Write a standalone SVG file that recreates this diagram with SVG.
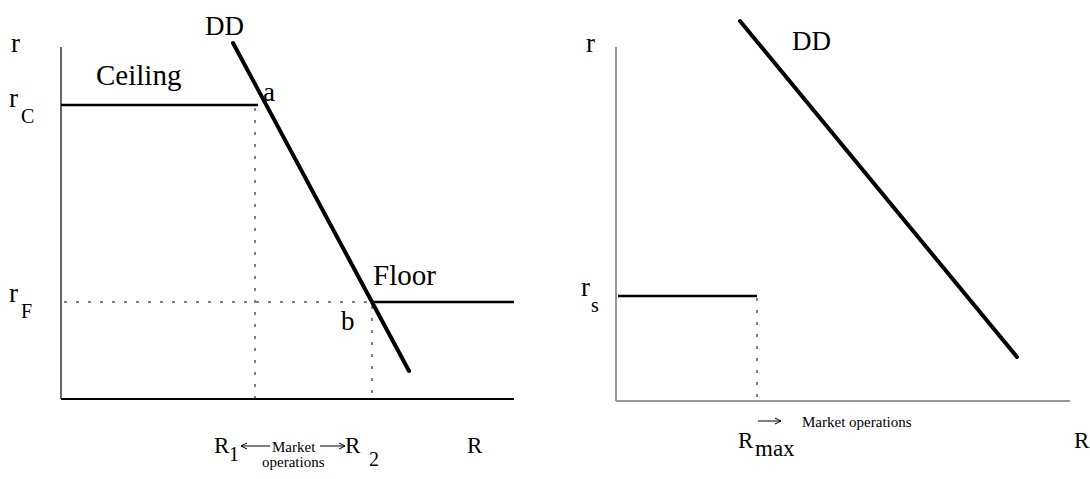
<svg xmlns="http://www.w3.org/2000/svg" width="1090" height="479" viewBox="0 0 1090 479">
<style>
text{font-family:"Liberation Serif","Times New Roman",serif;fill:#000}
.big{font-size:27px}
.lab{font-size:29px}
.ax{font-size:23px}
.sub{font-size:20px}
.sm{font-size:15px}
.thick{stroke:#000;stroke-width:4;stroke-linecap:round;fill:none}
.lvl{stroke:#000;stroke-width:2.5;fill:none}
.dash{stroke:#000;stroke-width:1;stroke-dasharray:3,9;fill:none}
.arr{stroke:#000;stroke-width:1;fill:none;marker-end:url(#ah)}
</style>
<defs>
<marker id="ah" markerWidth="8" markerHeight="8" refX="7" refY="4" orient="auto" markerUnits="userSpaceOnUse">
<path d="M1,1 L7,4 L1,7" fill="none" stroke="#000" stroke-width="1"/>
</marker>
</defs>
<rect width="1090" height="479" fill="#fff"/>
<g id="left-axes">
<line x1="61" y1="47" x2="61" y2="399" stroke="#333" stroke-width="1.5"/>
<line x1="61" y1="399" x2="514" y2="399" stroke="#000" stroke-width="2"/>
</g>
<g id="connectors">
<line class="dash" x1="255" y1="108" x2="255" y2="399"/>
<line class="dash" x1="64" y1="302" x2="372" y2="302"/>
<line class="dash" x1="372" y1="306" x2="372" y2="399"/>
<line class="dash" x1="757" y1="298" x2="757" y2="400"/>
<line class="arr" x1="270" y1="446" x2="241" y2="446"/>
<line class="arr" x1="320" y1="446" x2="345" y2="446"/>
<line class="arr" x1="758" y1="421" x2="781" y2="421"/>
</g>
<g id="ceiling"><line class="lvl" x1="61" y1="105" x2="258" y2="105"/></g>
<g id="floor"><line class="lvl" x1="372" y1="302" x2="514" y2="302"/></g>
<g id="dd-left"><line class="thick" x1="233" y1="43" x2="409" y2="371"/></g>
<g id="right-axes">
<line x1="616" y1="47" x2="616" y2="401" stroke="#999" stroke-width="2"/>
<line x1="616" y1="401" x2="1070" y2="401" stroke="#999" stroke-width="2"/>
</g>
<g id="rs-level"><line class="lvl" x1="618" y1="296" x2="757" y2="296"/></g>
<g id="dd-right"><line class="thick" x1="740" y1="21" x2="1017" y2="357"/></g>
<g id="labels-left">
<text class="big" x="11" y="52">r</text>
<text class="big" x="205" y="35">DD</text>
<text class="lab" x="96" y="85">Ceiling</text>
<text class="big" x="9" y="107">r</text>
<text class="sub" x="21" y="123">C</text>
<text class="big" x="263" y="101">a</text>
<text class="lab" x="373" y="285">Floor</text>
<text class="big" x="9" y="302">r</text>
<text class="sub" x="21" y="318">F</text>
<text class="big" x="341" y="330">b</text>
<text class="ax" x="214" y="453">R</text>
<text class="sub" x="229" y="461">1</text>
<text class="sm" x="272" y="452">Market</text>
<text class="ax" x="345" y="453">R</text>
<text class="sub" x="369" y="466">2</text>
<text class="sm" x="262" y="467">operations</text>
<text class="ax" x="467" y="453">R</text>
</g>
<g id="labels-right">
<text class="big" x="586" y="52">r</text>
<text class="big" x="792" y="50">DD</text>
<text class="big" x="581" y="296">r</text>
<text class="sub" x="591" y="312">s</text>
<text class="sm" x="802" y="427">Market operations</text>
<text class="ax" x="738" y="448">R</text>
<text class="sub" x="755" y="456" style="font-size:23px">max</text>
<text class="ax" x="1074" y="448">R</text>
</g>
</svg>
